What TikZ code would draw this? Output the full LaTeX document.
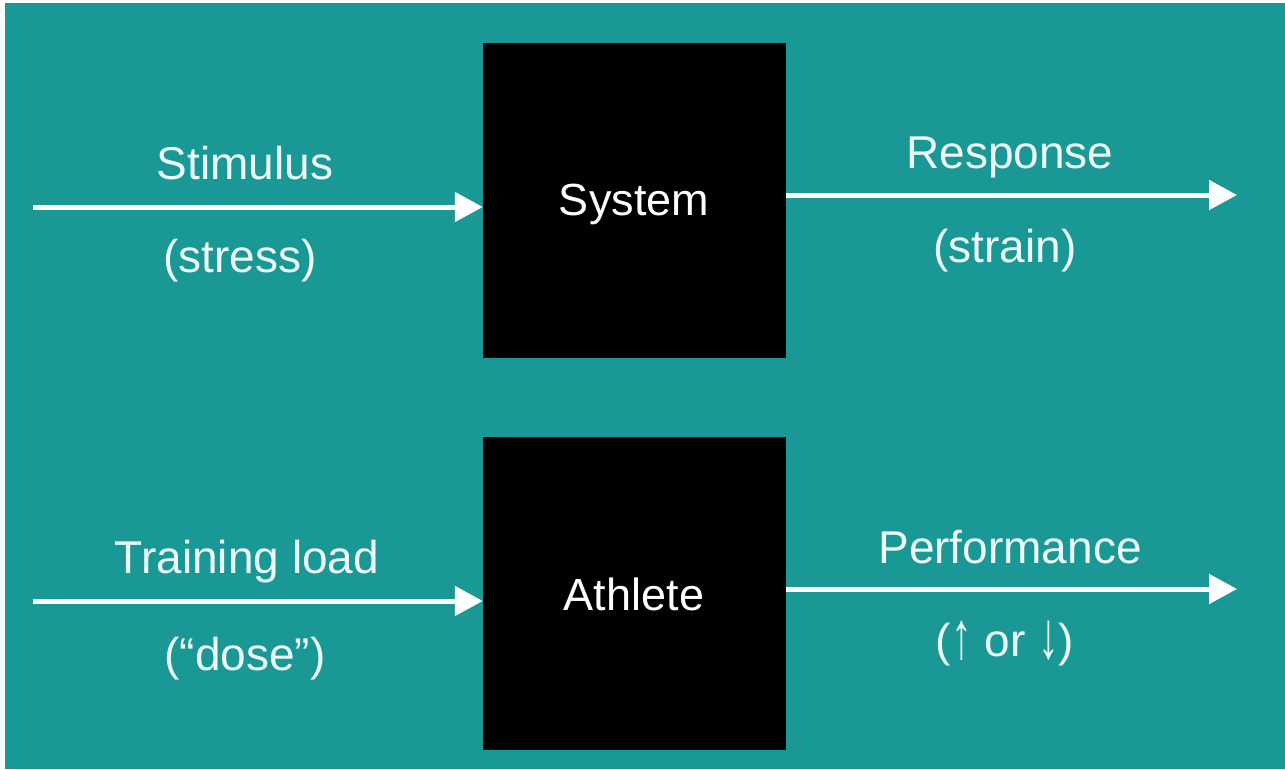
\documentclass[tikz,border=0pt]{standalone}
\usepackage{fontspec}
\setmainfont{Liberation Sans}
\usetikzlibrary{arrows.meta}
\definecolor{bgteal}{RGB}{26,152,150}
\definecolor{txt}{RGB}{236,250,250}
\newcommand{\tallarrow}[1]{\raisebox{-0.05em}{\scalebox{0.9}[1.45]{#1}}}
\begin{document}
\begin{tikzpicture}[x=1pt,y=-1pt,
  lbl/.style={text=txt,font=\fontsize{46}{55}\selectfont,anchor=base,inner sep=0pt},
  blk/.style={fill=black,draw=none,minimum width=303pt,minimum height=315pt,inner sep=0pt},
  boxlbl/.style={text=white,font=\fontsize{45}{54}\selectfont,anchor=base,inner sep=0pt},
  flow/.style={draw=white,line width=5pt,-{Triangle[length=28pt,width=29pt]}}]
\useasboundingbox (0,0) rectangle (1285,769);
\fill[white] (0,0) rectangle (1285,769);
\fill[bgteal] (5,3) rectangle (1285,769);
% boxes
\node[blk] (sys) at (634.5,200.5) {};
\node[blk,minimum height=313pt] (ath) at (634.5,593.5) {};
\node[boxlbl] (syslbl) at (634,215) {System};
\node[boxlbl] (athlbl) at (634,610) {Athlete};
% arrow endpoints
\coordinate (s1) at (33,207);
\coordinate (r1) at (1237,195);
\coordinate (s2) at (33,601);
\coordinate (r2) at (1237,589);
\draw[flow] (s1) -- (s1 -| sys.west);
\draw[flow] (r1 -| sys.east) -- (r1);
\draw[flow] (s2) -- (s2 -| ath.west);
\draw[flow] (r2 -| ath.east) -- (r2);
% labels
\node[lbl] (stim) at (245,179) {Stimulus};
\node[lbl] (stress) at (240,272) {(stress)};
\node[lbl] (resp) at (1010,168) {Response};
\node[lbl] (strain) at (1005,262) {(strain)};
\node[lbl] (load) at (247,573) {Training load};
\node[lbl] (dose) at (245,670) {(“dose”)};
\node[lbl] (perf) at (1010,563) {Performance};
\node[lbl] (updown) at (1005,656) {(\tallarrow{↑} or \tallarrow{↓})};
\end{tikzpicture}
\end{document}
